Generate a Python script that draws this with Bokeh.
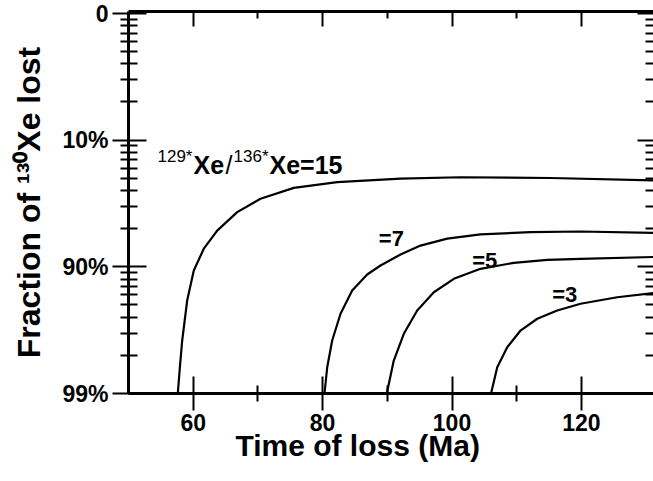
import numpy as np
from bokeh.plotting import figure
from bokeh.models import Range1d, FixedTicker, LinearAxis, LogAxis, Label
from bokeh.embed import file_html
from bokeh.resources import INLINE

# ---- data (time of loss in Ma, y in log-axis units: 0.01 -> "99%", 10 -> "0") ----
t_15 = [57.62, 57.96, 58.30, 59.07, 60.09, 61.64, 63.71, 66.80, 70.40, 75.55, 82.26, 92.04, 101.31, 115.22, 131.14]
y_15 = [0.010, 0.0166, 0.0262, 0.0542, 0.0935, 0.139, 0.193, 0.270, 0.344, 0.420, 0.466, 0.497, 0.509, 0.502, 0.480]
t_7 = [80.29, 80.71, 81.48, 82.77, 84.57, 86.89, 88.95, 92.04, 95.13, 99.26, 104.40, 112.13, 119.86, 131.14]
y_7 = [0.010, 0.0161, 0.0262, 0.0426, 0.0650, 0.0869, 0.1024, 0.125, 0.147, 0.167, 0.180, 0.188, 0.190, 0.185]
t_5 = [89.92, 91.00, 92.55, 94.62, 97.19, 100.28, 104.40, 109.55, 114.71, 119.86, 131.14]
y_5 = [0.010, 0.0182, 0.0296, 0.0452, 0.0630, 0.0804, 0.0964, 0.1075, 0.1135, 0.1156, 0.1195]
t_3 = [106.03, 106.99, 108.53, 110.59, 113.17, 116.26, 119.86, 125.53, 131.14]
y_3 = [0.010, 0.0161, 0.0232, 0.0314, 0.0389, 0.0452, 0.0511, 0.0575, 0.0621]

x_major = [60, 80, 100, 120]
x_minor = [70, 90, 110]
y_major = [0.01, 0.1, 1, 10]
y_labels = ["99%", "90%", "10%", "0"]
y_minor = [k * d for d in (0.01, 0.1, 1) for k in range(2, 10)]

FONT = "Liberation Sans"

p = figure(width=653, height=481, y_axis_type="log",
           x_range=Range1d(50, 131.14), y_range=Range1d(0.01, 10.35),
           output_backend="svg", toolbar_location=None,
           min_border_left=128, min_border_right=0, min_border_top=11, min_border_bottom=88)
p.outline_line_color = None
p.grid.visible = False
p.background_fill_color = "white"
p.border_fill_color = "white"

# left axis
ya = p.yaxis[0]
ya.ticker = FixedTicker(ticks=y_major, minor_ticks=y_minor)
ya.major_label_overrides = dict(zip(y_major, y_labels))
ya.major_tick_in = 18
ya.major_tick_out = 16
ya.minor_tick_in = 9
ya.minor_tick_out = 8
ya.axis_line_width = 3
ya.major_tick_line_width = 2
ya.minor_tick_line_width = 2
ya.major_label_text_font = FONT
ya.major_label_text_font_style = "bold"
ya.major_label_text_font_size = "23px"
ya.major_label_text_color = "black"
ya.major_label_standoff = 4
ya.axis_label = "Fraction of \u00b9\u00b3\u2070Xe lost"
ya.axis_label_text_font = FONT
ya.axis_label_text_font_style = "bold"
ya.axis_label_text_font_size = "32px"
ya.axis_label_text_color = "black"
ya.axis_label_standoff = 12

# bottom axis
xa = p.xaxis[0]
xa.ticker = FixedTicker(ticks=x_major, minor_ticks=x_minor)
xa.major_tick_in = 17
xa.major_tick_out = 17
xa.minor_tick_in = 8
xa.minor_tick_out = 8
xa.axis_line_width = 3
xa.major_tick_line_width = 2
xa.minor_tick_line_width = 2
xa.major_label_text_font = FONT
xa.major_label_text_font_style = "bold"
xa.major_label_text_font_size = "23px"
xa.major_label_text_color = "black"
xa.major_label_standoff = 3
# trailing spaces shift the centred title left, as in the reference
xa.axis_label = "Time of loss (Ma)" + " " * 8
xa.axis_label_text_font = FONT
xa.axis_label_text_font_style = "bold"
xa.axis_label_text_font_size = "30px"
xa.axis_label_text_color = "black"
xa.axis_label_standoff = -5

# top axis (ticks only)
top = LinearAxis(ticker=FixedTicker(ticks=x_major, minor_ticks=x_minor),
                 major_tick_in=15, major_tick_out=0, minor_tick_in=7, minor_tick_out=0,
                 major_tick_line_width=2, minor_tick_line_width=2, axis_line_width=3,
                 major_label_overrides={v: "" for v in x_major},
                 major_label_text_font_size="1px", major_label_standoff=0)
p.add_layout(top, "above")

# right axis (ticks only)
right = LogAxis(ticker=FixedTicker(ticks=y_major, minor_ticks=y_minor),
                major_tick_in=16, major_tick_out=0, minor_tick_in=8, minor_tick_out=0,
                major_tick_line_width=2, minor_tick_line_width=2, axis_line_color=None,
                major_label_overrides={v: "" for v in y_major},
                major_label_text_font_size="1px", major_label_standoff=0)
p.add_layout(right, "right")

# curves
for t, y in ((t_15, y_15), (t_7, y_7), (t_5, y_5), (t_3, y_3)):
    p.line(t, y, line_color="black", line_width=2.2)


def lab(x, y, text, size, bold=True):
    p.add_layout(Label(x=x, y=y, text=text, text_font=FONT,
                       text_font_style="bold" if bold else "normal",
                       text_font_size=size, text_color="black",
                       text_align="left", text_baseline="alphabetic"))


# ratio label
lab(54.48, 0.738, "129*", "17px", bold=False)
lab(60.05, 0.631, "Xe", "25px")
lab(64.99, 0.631, "/", "25px", bold=False)
lab(66.23, 0.738, "136*", "17px", bold=False)
lab(71.79, 0.631, "Xe=15", "25px")
lab(88.69, 0.167, "=7", "22px")
lab(103.12, 0.1128, "=5", "22px")
lab(115.49, 0.0604, "=3", "22px")

open("out.html", "w").write(file_html(p, INLINE))
